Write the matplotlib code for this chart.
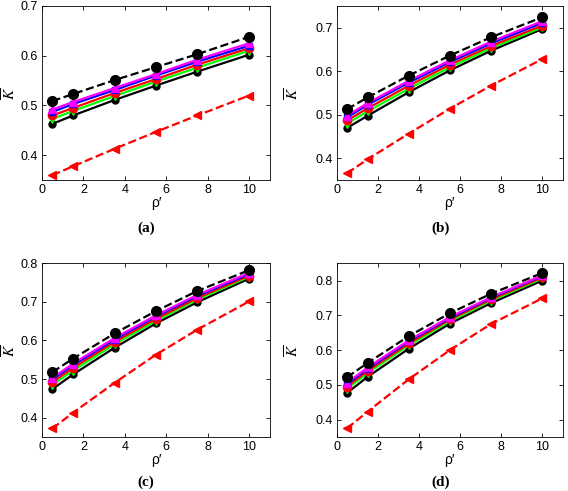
import matplotlib
matplotlib.use("Agg")
import matplotlib.pyplot as plt

plt.rcParams['font.family'] = ['Liberation Sans', 'DejaVu Sans']
plt.rcParams['mathtext.fontset'] = 'stix'

x = [0.5, 1.5, 3.5, 5.5, 7.5, 10]

# panel (a)
a_black_dash = [0.509, 0.523, 0.551, 0.577, 0.603, 0.638]
a_magenta = [0.492, 0.507, 0.535, 0.563, 0.592, 0.625]
a_blue = [0.487, 0.503, 0.531, 0.560, 0.588, 0.620]
a_red = [0.480, 0.495, 0.525, 0.553, 0.582, 0.615]
a_green = [0.473, 0.489, 0.519, 0.548, 0.576, 0.610]
a_black = [0.463, 0.480, 0.511, 0.540, 0.568, 0.602]
a_red_dash = [0.360, 0.378, 0.413, 0.447, 0.480, 0.520]

# panel (b)
b_black_dash = [0.513, 0.540, 0.590, 0.636, 0.678, 0.724]
b_magenta = [0.498, 0.527, 0.578, 0.625, 0.668, 0.715]
b_blue = [0.494, 0.523, 0.574, 0.621, 0.664, 0.711]
b_red = [0.487, 0.515, 0.567, 0.615, 0.658, 0.705]
b_green = [0.480, 0.508, 0.560, 0.609, 0.653, 0.701]
b_black = [0.470, 0.498, 0.552, 0.602, 0.647, 0.697]
b_red_dash = [0.366, 0.398, 0.457, 0.514, 0.567, 0.628]

# panel (c)
c_black_dash = [0.518, 0.553, 0.618, 0.676, 0.728, 0.782]
c_magenta = [0.503, 0.540, 0.606, 0.665, 0.718, 0.775]
c_blue = [0.499, 0.536, 0.602, 0.662, 0.715, 0.772]
c_red = [0.492, 0.529, 0.596, 0.656, 0.710, 0.768]
c_green = [0.485, 0.522, 0.590, 0.651, 0.706, 0.765]
c_black = [0.474, 0.512, 0.581, 0.644, 0.699, 0.760]
c_red_dash = [0.372, 0.413, 0.490, 0.563, 0.628, 0.701]

# panel (d)
d_black_dash = [0.522, 0.563, 0.640, 0.706, 0.762, 0.822]
d_magenta = [0.506, 0.550, 0.628, 0.695, 0.752, 0.815]
d_blue = [0.502, 0.546, 0.625, 0.692, 0.750, 0.813]
d_red = [0.495, 0.540, 0.619, 0.688, 0.746, 0.809]
d_green = [0.489, 0.534, 0.614, 0.683, 0.742, 0.806]
d_black = [0.477, 0.523, 0.604, 0.676, 0.735, 0.800]
d_red_dash = [0.375, 0.423, 0.516, 0.600, 0.675, 0.749]

panels = [
    ("(a)", (a_black_dash, a_magenta, a_blue, a_red, a_green, a_black, a_red_dash), (0.35, 0.7), [0.4, 0.5, 0.6, 0.7]),
    ("(b)", (b_black_dash, b_magenta, b_blue, b_red, b_green, b_black, b_red_dash), (0.35, 0.75), [0.4, 0.5, 0.6, 0.7]),
    ("(c)", (c_black_dash, c_magenta, c_blue, c_red, c_green, c_black, c_red_dash), (0.35, 0.8), [0.4, 0.5, 0.6, 0.7, 0.8]),
    ("(d)", (d_black_dash, d_magenta, d_blue, d_red, d_green, d_black, d_red_dash), (0.35, 0.85), [0.4, 0.5, 0.6, 0.7, 0.8]),
]

positions = [
    [0.074, 0.633, 0.401, 0.355],
    [0.593, 0.633, 0.398, 0.355],
    [0.074, 0.110, 0.401, 0.354],
    [0.593, 0.110, 0.398, 0.354],
]
label_xy = [(0.257, 0.536), (0.775, 0.536), (0.257, 0.018), (0.775, 0.018)]
ylabel_x = [-0.10, -0.155, -0.10, -0.155]

fig = plt.figure(figsize=(5.68, 4.91), dpi=100)

for (label, series, ylim, yticks), pos, lxy, ylx in zip(panels, positions, label_xy, ylabel_x):
    ax = fig.add_axes(pos)
    bd, mg, bl, rd, gr, bk, rdd = series
    ax.plot(x, rdd, color='#ff0000', ls='--', lw=1.6, marker='<', ms=6)
    ax.plot(x, bk, color='black', ls='-', lw=1.6, marker='o', ms=5)
    ax.plot(x, gr, color='#00ff00', ls='-', lw=1.6, marker='v', ms=6)
    ax.plot(x, rd, color='#ff0000', ls='-', lw=1.6, marker='o', ms=6)
    ax.plot(x, bl, color='#0000ff', ls='-', lw=1.6, marker='s', ms=5)
    ax.plot(x, mg, color='#ff00ff', ls='-', lw=1.6, marker='^', ms=6)
    ax.plot(x, bd, color='black', ls='--', lw=1.6, marker='o', ms=7)
    ax.set_xlim(0, 11)
    ax.set_ylim(*ylim)
    ax.set_xticks([0, 2, 4, 6, 8, 10])
    ax.set_yticks(yticks)
    ax.set_yticklabels([f"{v:.1f}" for v in yticks])
    ax.tick_params(direction='in', top=True, right=True, labelsize=9, length=3, width=0.6, pad=3)
    for s in ax.spines.values():
        s.set_linewidth(0.6)
    ax.set_xlabel("ρ′", fontsize=10, labelpad=0)
    ax.set_ylabel(r"$\overline{K}$", fontsize=11)
    ax.yaxis.set_label_coords(ylx, 0.5)
    fig.text(lxy[0], lxy[1], label, ha='center', va='center',
             fontsize=11, fontweight='bold', family='Liberation Serif')

fig.savefig("out.png", dpi=100)
